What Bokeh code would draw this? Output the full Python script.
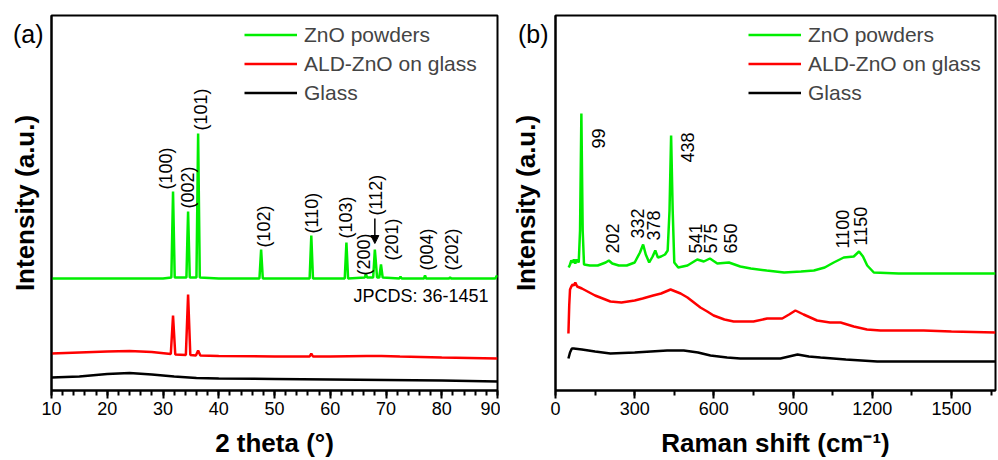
from bokeh.plotting import figure
from bokeh.layouts import row
from bokeh.models import (Range1d, SingleIntervalTicker, FixedTicker, Legend, LegendItem,
                          Arrow, NormalHead, Label, ColumnDataSource)
from bokeh.core.properties import value
from bokeh.embed import file_html
from bokeh.resources import INLINE

FONT = "Liberation Sans"
GREEN = "#00ee00"
RED = "#ff0000"
BLACK = "#000000"

# ---------------- XRD data (panel a) ----------------
xrd_green_x = [10, 20, 30, 31.5, 31.8, 32.1, 34.2, 34.5, 34.8, 36.0, 36.3, 36.6, 40, 47.3, 47.6, 47.9,
               52, 56.3, 56.6, 56.9, 62.6, 62.9, 63.2, 66.2, 66.4, 66.6, 67.7, 68.0, 68.4, 68.8, 69.1, 69.4,
               72.4, 72.6, 72.8, 76.8, 77.0, 77.2, 81.3, 81.5, 81.7, 86, 89.6, 89.9, 90]
xrd_green_y = [112, 112, 112, 113, 199, 113, 113, 179, 113, 113, 257, 113, 112, 112, 141, 112,
               112, 112, 155, 112, 112, 148, 112, 113, 117, 113, 113, 141, 113, 113, 126, 113,
               112, 114, 112, 112, 115, 112, 112, 113, 112, 112, 112, 115, 113]

xrd_red_x = [10, 15, 20, 24, 28, 31.4, 31.8, 32.2, 34.1, 34.5, 34.9, 35.9, 36.3, 36.7, 40, 50,
             56.3, 56.6, 56.9, 60, 66.5, 69.2, 72.5, 80, 90]
xrd_red_y = [37, 38, 39, 39.5, 38.5, 36.5, 75, 36, 35.5, 96, 35.5, 35, 40, 35, 34.5, 34,
             34, 37, 34, 34, 34.5, 34.5, 34, 33, 32]

xrd_black_x = [10, 15, 20, 24, 28, 32, 36, 40, 50, 60, 70, 80, 90]
xrd_black_y = [13, 14, 16.5, 17.5, 16, 14, 12.5, 12, 11.5, 11, 10.5, 10, 9]

xrd_labels = ["(100)", "(002)", "(101)", "(102)", "(110)", "(103)", "(200)", "(112)", "(201)", "(004)", "(202)"]
xrd_label_x = [30.6, 34.4, 36.9, 48.2, 56.8, 62.9, 66.1, 68.2, 71.0, 77.3, 81.9]
xrd_label_y = [201, 182, 260, 143, 157, 152, 115, 175, 130, 120, 120]

# ---------------- Raman data (panel b) ----------------
raman_green_x = [50, 55, 60, 65, 70, 75, 80, 88, 93, 98, 103, 108, 130, 160, 190, 202, 215, 240, 270,
                 300, 320, 332, 342, 355, 368, 378, 388, 400, 415, 425, 432, 438, 444, 450, 465, 500,
                 537, 562, 585, 613, 657, 700, 740, 800, 866, 930, 979, 1020, 1054, 1092, 1130, 1150,
                 1165, 1181, 1206, 1300, 1500, 1667]
raman_green_y = [123, 126, 130, 128, 131, 127, 131, 128, 160, 277, 160, 126, 125, 125, 128, 130, 127, 125, 125,
                 128, 138, 146, 136, 128, 134, 140, 133, 134, 136, 140, 180, 255, 180, 128, 123, 125,
                 131, 129, 132, 127, 128, 124, 122, 120, 118, 119, 120, 123, 128, 133, 134, 139,
                 134, 125, 118, 117, 117, 117]

raman_red_x = [49, 52, 55, 60, 65, 70, 75, 82, 100, 150, 208, 250, 300, 330, 370, 400, 436, 474, 500,
               549, 575, 599, 640, 675, 750, 802, 859, 885, 909, 940, 991, 1040, 1080, 1130, 1180,
               1231, 1300, 1395, 1500, 1667]
raman_red_y = [57, 85, 101, 104, 106, 105, 108, 104, 102, 95, 89, 88, 90, 92, 95, 97, 101, 97, 93,
               83, 79, 75, 71, 69, 69, 72, 72, 76, 80, 76, 70, 68, 68, 64, 61,
               60, 60, 60, 59, 58]

raman_black_x = [49, 55, 62, 69, 100, 150, 208, 300, 423, 486, 540, 587, 650, 700, 852, 917, 960,
                 1004, 1100, 1219, 1400, 1667]
raman_black_y = [32, 38, 42, 42, 41, 39, 37, 38, 40, 40, 38, 35, 33, 32, 32, 36, 34,
                 33, 31, 29, 29, 29]

raman_labels = ["99", "202", "332", "378", "438", "541", "575", "650", "1100", "1150"]
raman_label_x = [163, 216, 311, 371, 500, 530, 587, 663, 1087, 1155]
raman_label_y = [242, 137, 152, 150, 228, 137, 137, 137, 142, 145]

series_names = ["ZnO powders", "ALD-ZnO on glass", "Glass"]
panel_tags = ["(a)", "(b)"]
TAG_Y = 357


def make_fig(width, left, xr, xinterval, nminor, xtitle, tag, tag_standoff, title_standoff):
    p = figure(width=width, height=460, x_range=Range1d(*xr), y_range=Range1d(0, 375),
               output_backend="svg", toolbar_location=None,
               min_border_left=left, min_border_right=3, min_border_top=15, min_border_bottom=70)
    p.xgrid.visible = False
    p.ygrid.visible = False
    p.background_fill_color = "white"
    p.border_fill_color = "white"
    p.outline_line_color = "black"
    p.outline_line_width = 2
    p.outline_line_alpha = 1

    ax = p.xaxis[0]
    ax.ticker = SingleIntervalTicker(interval=xinterval, num_minor_ticks=nminor)
    ax.axis_line_width = 2
    ax.major_tick_line_width = 2
    ax.minor_tick_line_width = 2
    ax.major_tick_in = 0
    ax.major_tick_out = 8
    ax.minor_tick_in = 0
    ax.minor_tick_out = 5
    ax.major_label_text_font = FONT
    ax.major_label_text_font_size = "18px"
    ax.major_label_text_color = "black"
    ax.major_label_standoff = 3
    ax.axis_label = xtitle
    ax.axis_label_text_font = FONT
    ax.axis_label_text_font_size = "26px"
    ax.axis_label_text_font_style = "bold"
    ax.axis_label_text_color = "black"
    ax.axis_label_standoff = 10

    # y axis: no real ticks; a single tick label carries the panel tag "(a)"/"(b)"
    ay = p.yaxis[0]
    ay.ticker = FixedTicker(ticks=[TAG_Y])
    ay.major_label_overrides = {TAG_Y: tag}
    ay.major_label_text_font = FONT
    ay.major_label_text_font_size = "25px"
    ay.major_label_text_color = "black"
    ay.major_label_standoff = tag_standoff
    ay.major_tick_in = 0
    ay.major_tick_out = 0
    ay.major_tick_line_color = None
    ay.minor_tick_line_color = None
    ay.axis_line_width = 2
    ay.axis_label = "Intensity (a.u.)"
    ay.axis_label_text_font = FONT
    ay.axis_label_text_font_size = "26px"
    ay.axis_label_text_font_style = "bold"
    ay.axis_label_text_color = "black"
    ay.axis_label_standoff = title_standoff
    return p


def add_series(p, xs, ys):
    renderers = []
    for (x, y), col in zip(zip(xs, ys), [GREEN, RED, BLACK]):
        r = p.line(x, y, line_color=col, line_width=2.5)
        renderers.append(r)
    items = [LegendItem(label=n, renderers=[r]) for n, r in zip(series_names, renderers)]
    leg = Legend(items=items, location=(193, 283), border_line_color=None,
                 background_fill_alpha=0, label_text_font=FONT, label_text_font_size="21px",
                 glyph_width=53, glyph_height=29, label_height=29, spacing=0, padding=0,
                 margin=0, label_standoff=7)
    p.add_layout(leg, "center")
    return renderers


# ---------- panel (a) ----------
p1 = make_fig(500, 51, (10, 90), 10, 5, "2 theta (°)", panel_tags[0], 8, -30)
add_series(p1, [xrd_green_x, xrd_red_x, xrd_black_x], [xrd_green_y, xrd_red_y, xrd_black_y])
src1 = ColumnDataSource(dict(x=xrd_label_x, y=xrd_label_y, t=xrd_labels))
p1.text(x="x", y="y", text="t", source=src1, angle=1.5707963, text_align="left",
        text_baseline="middle", text_font=value(FONT), text_font_size="18px", text_color="black")
p1.add_layout(Label(x=88.4, y=95, text="JPCDS: 36-1451", text_align="right", text_baseline="middle",
                    text_font=FONT, text_font_size="18px", text_color="black"))
i112 = xrd_labels.index("(112)")
p1.add_layout(Arrow(end=NormalHead(size=8, fill_color="black", line_color="black"),
                    x_start=68.0, y_start=xrd_label_y[i112] - 3, x_end=68.0, y_end=147,
                    line_width=1.5, line_color="black"))

# ---------- panel (b) ----------
p2 = make_fig(498, 55, (0, 1667), 300, 2, "Raman shift (cm⁻¹)", panel_tags[1], 7, -26)
add_series(p2, [raman_green_x, raman_red_x, raman_black_x], [raman_green_y, raman_red_y, raman_black_y])
src2 = ColumnDataSource(dict(x=raman_label_x, y=raman_label_y, t=raman_labels))
p2.text(x="x", y="y", text="t", source=src2, angle=1.5707963, text_align="left",
        text_baseline="middle", text_font=value(FONT), text_font_size="18px", text_color="black")

layout = row(p1, p2)
open("out.html", "w").write(file_html(layout, INLINE))
